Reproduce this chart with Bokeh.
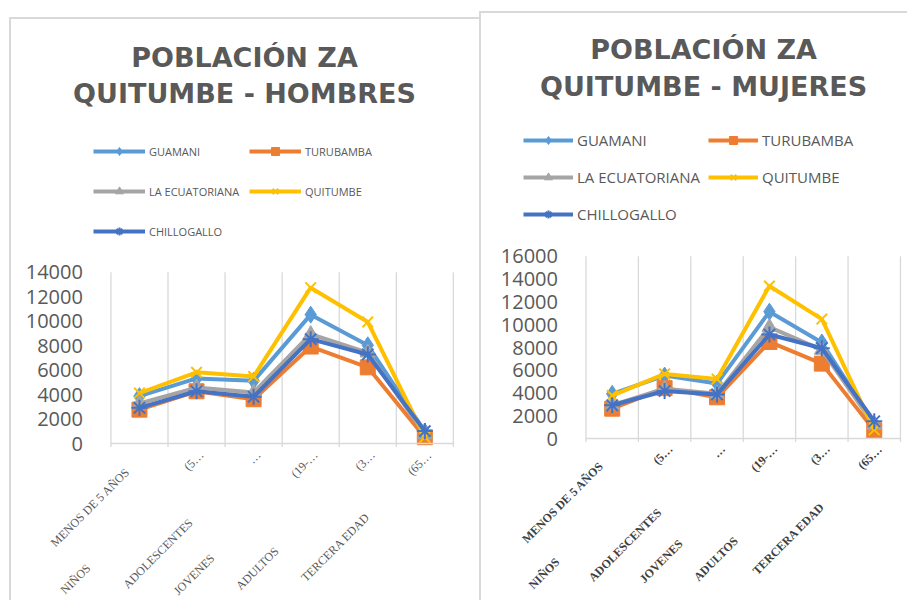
from math import pi
from bokeh.plotting import figure
from bokeh.models import Range1d, FixedTicker, Legend, LegendItem, ColumnDataSource
from bokeh.layouts import row
from bokeh.embed import file_html
from bokeh.resources import INLINE
from bokeh.core.properties import value

# ---------------- data ----------------
categories = ["MENOS DE 5 AÑOS", "NIÑOS", "ADOLESCENTES", "JOVENES", "ADULTOS", "TERCERA EDAD"]
category_tails = ["", "(5…", "…", "(19-…", "(3…", "(65…"]
series_names = ["GUAMANI", "TURUBAMBA", "LA ECUATORIANA", "QUITUMBE", "CHILLOGALLO"]

hombres_guamani = [3900, 5350, 5150, 10550, 8050, 1000]
hombres_turubamba = [2800, 4300, 3650, 7950, 6250, 550]
hombres_ecuatoriana = [3300, 4600, 4200, 8950, 7450, 800]
hombres_quitumbe = [4150, 5850, 5500, 12750, 9950, 550]
hombres_chillogallo = [2950, 4300, 3850, 8550, 7300, 1050]

mujeres_guamani = [3950, 5550, 4850, 11150, 8450, 1300]
mujeres_turubamba = [2650, 4450, 3650, 8500, 6600, 750]
mujeres_ecuatoriana = [2950, 4400, 3950, 9800, 7800, 1200]
mujeres_quitumbe = [3800, 5700, 5250, 13400, 10500, 800]
mujeres_chillogallo = [2950, 4200, 3900, 9150, 7950, 1550]

y_ticks_hombres = [0, 2000, 4000, 6000, 8000, 10000, 12000, 14000]
y_ticks_mujeres = [0, 2000, 4000, 6000, 8000, 10000, 12000, 14000, 16000]

# ---------------- style ----------------
COLORS = ["#5B9BD5", "#ED7D31", "#A5A5A5", "#FFC000", "#4472C4"]
MARKERS = ["diamond", "square", "triangle", "x", "asterisk"]
MSIZES = [17, 15, 15, 15, 16]
LEGEND_ORDER = [0, 2, 4, 1, 3]   # fills column-wise -> rows read G/T, LE/Q, C
GRID = "#D9D9D9"
TXT = "#595959"
EM = "\u2003"
EN = "\u2002"


def spacer(n):
    return EM * int(n) + (EN if n - int(n) >= 0.5 else "")


def make_chart(title_lines, series, yticks, st):
    ymax = yticks[-1]
    ncat = len(categories)
    cw, ch = st["w"] - 2, st["h"] - 2          # canvas inside the 2px border
    L, R, T, B = st["area"]                    # plot area in canvas pixels
    ux = ncat / (R - L)
    uy = ymax / (B - T)
    x_range = Range1d(-L * ux, ncat + (cw - R) * ux)
    y_range = Range1d(-(ch - B) * uy, ymax + T * uy)

    p = figure(width=st["w"], height=st["h"], output_backend="svg", toolbar_location=None,
               x_range=x_range, y_range=y_range,
               min_border_left=0, min_border_right=0, min_border_top=0, min_border_bottom=0,
               background_fill_color="white", border_fill_color="white",
               outline_line_color=None,
               styles={"border-top": "2px solid #D9D9D9", "border-left": "2px solid #D9D9D9"})
    p.margin = st["margin"]
    p.xgrid.visible = False
    p.ygrid.visible = False

    # y axis drawn at the plot-area edge
    p.yaxis.fixed_location = 0
    p.yaxis.bounds = (0, ymax)
    p.yaxis.ticker = FixedTicker(ticks=yticks)
    p.yaxis.axis_line_color = None
    p.yaxis.major_tick_line_color = None
    p.yaxis.minor_tick_line_color = None
    p.yaxis.major_label_standoff = 22
    p.yaxis.major_label_text_font = "Open Sans"
    p.yaxis.major_label_text_font_size = "20px"
    p.yaxis.major_label_text_color = TXT

    # x axis at y = 0 with rotated category labels
    xs = [i + 0.5 for i in range(ncat)]
    label_x = [x + st["xshift"] * ux for x in xs]
    labels = [c + spacer(g) + t for c, g, t in zip(categories, st["gaps"], category_tails)]
    p.xaxis.fixed_location = 0
    p.xaxis.bounds = (0, ncat)
    p.xaxis.ticker = FixedTicker(ticks=label_x)
    p.xaxis.major_label_overrides = {x: lab for x, lab in zip(label_x, labels)}
    p.xaxis.major_label_orientation = pi / 4
    p.xaxis.major_label_standoff = st["xstand"]
    p.xaxis.major_label_text_font = "Liberation Serif"
    p.xaxis.major_label_text_font_size = st["xfs"]
    p.xaxis.major_label_text_font_style = st["xstyle"]
    p.xaxis.major_label_text_color = st["xcol"]
    p.xaxis.axis_line_color = GRID
    p.xaxis.axis_line_width = 1.5
    p.xaxis.major_tick_line_color = None
    p.xaxis.minor_tick_line_color = None

    # vertical gridlines at category boundaries (with short tick below the axis)
    bnd = list(range(ncat + 1))
    p.segment(x0=bnd, y0=[-3 * uy] * len(bnd), x1=bnd, y1=[ymax] * len(bnd),
              line_color=GRID, line_width=1.3)

    items = []
    for name, vals, c, m, ms in zip(series_names, series, COLORS, MARKERS, MSIZES):
        src = ColumnDataSource(dict(x=xs, y=vals))
        lr = p.line("x", "y", source=src, line_color=c, line_width=4)
        sr = p.scatter("x", "y", source=src, marker=m, size=ms, fill_color=c,
                       line_color=c, line_width=2 if m in ("x", "asterisk") else 1)
        items.append(LegendItem(label=name, renderers=[lr, sr]))

    lx, ly_top = st["lpos"]
    rows = (len(items) + 1) // 2
    leg = Legend(items=[items[i] for i in LEGEND_ORDER], ncols=2,
                 location=(lx, ch - ly_top - rows * st["lh"]),
                 border_line_color=None, background_fill_alpha=0, padding=0, margin=0,
                 spacing=0, glyph_width=st["gw"], glyph_height=20, label_height=st["lh"],
                 label_width=st["lw"], label_standoff=4,
                 label_text_font="Open Sans", label_text_font_size=st["lfs"],
                 label_text_color=TXT)
    p.add_layout(leg, "center")

    # two-line title, centred
    tx, ty = st["tpos"]
    p.text(x=[(tx - L) * ux] * len(title_lines),
           y=[ymax + (T - yy) * uy for yy in ty], text=title_lines,
           text_align="center", text_baseline="middle",
           text_font=value("DejaVu Sans"), text_font_style="bold",
           text_font_size=st["tfs"], text_color=TXT)
    return p


st_h = dict(w=470, h=583, margin=(17, 0, 0, 9), area=(99, 440, 252, 423),
            tfs="27px", tpos=(232, [38, 74]),
            lpos=(82, 110), gw=52, lh=40, lw=100, lfs="11px",
            gaps=[2, 11.5, 7, 9.5, 9.5, 5], xshift=5, xstand=3,
            xfs="12px", xstyle="normal", xcol="#595959")
st_m = dict(w=428, h=589, margin=(11, 0, 0, 0), area=(104, 417, 242, 424),
            tfs="27px", tpos=(221, [36, 73]),
            lpos=(42, 106), gw=50, lh=37, lw=131, lfs="15px",
            gaps=[2, 11.5, 6.5, 8.5, 9, 4.5], xshift=6, xstand=2,
            xfs="12px", xstyle="bold", xcol="#404040")

p1 = make_chart(["POBLACIÓN ZA", "QUITUMBE - HOMBRES"],
                [hombres_guamani, hombres_turubamba, hombres_ecuatoriana,
                 hombres_quitumbe, hombres_chillogallo], y_ticks_hombres, st_h)
p2 = make_chart(["POBLACIÓN ZA", "QUITUMBE - MUJERES"],
                [mujeres_guamani, mujeres_turubamba, mujeres_ecuatoriana,
                 mujeres_quitumbe, mujeres_chillogallo], y_ticks_mujeres, st_m)

layout = row(p1, p2)
open("out.html", "w").write(file_html(layout, INLINE))
